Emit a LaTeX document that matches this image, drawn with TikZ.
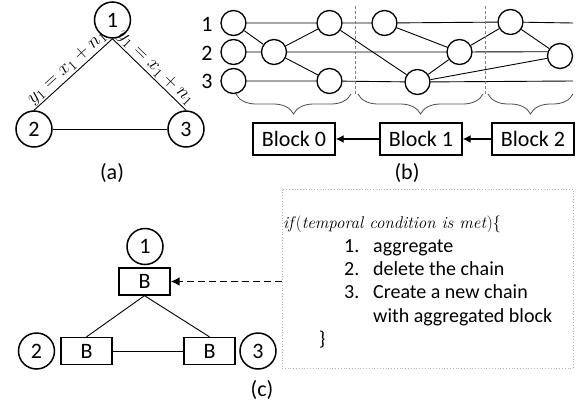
\RequirePackage{fix-cm}
\documentclass[tikz,border=0pt]{standalone}
\usepackage{fontspec}
\usepackage{graphicx}
\setmainfont{Carlito}
\newfontfamily\condfont{Latin Modern Roman}
\usetikzlibrary{decorations.pathreplacing,arrows.meta}

\newcommand{\yeq}{\resizebox{100pt}{!}{$y_1=x_1+n_1$}}

\begin{document}
\begin{tikzpicture}[
            x=1pt, y=-1pt,
            every node/.style={font=\fontsize{22}{26}\selectfont},
            main node/.style={circle,draw,line width=1.5pt,minimum size=36pt,inner sep=0pt},
            tx node/.style={circle,draw,fill=white,line width=1.3pt,minimum size=25pt,inner sep=0pt},
            block node/.style={rectangle,draw,line width=1.4pt,minimum width=82pt,minimum height=32pt,inner sep=0pt},
            agg node/.style={rectangle,draw,line width=1.3pt,minimum width=51pt,minimum height=27pt,inner sep=0pt},
            edge label/.style={sloped,above,inner sep=1pt},
            every edge/.style={draw,line width=0.9pt},
            chain line/.style={draw,line width=0.9pt},
            sep line/.style={draw,gray,line width=0.9pt,dash pattern=on 3pt off 2pt},
            group brace/.style={draw,gray!60!black,line width=0.8pt,decorate,decoration={brace,mirror,amplitude=20pt}},
            link arrow/.style={draw,line width=1.4pt,-{Latex[length=8pt,width=8pt]}},
            agg arrow/.style={draw,line width=1.8pt,dash pattern=on 7pt off 4pt,-{Latex[length=9pt,width=9pt]}},
            cond box/.style={rectangle,draw,gray!60,dotted,line width=0.8pt,minimum width=291pt,minimum height=179pt},
        ]
            \useasboundingbox (0,0) rectangle (582,402);

            % (a)
            \node[main node] (a1) at (112.5, 20) {1};
            \node[main node] (a2) at (34, 129) {2};
            \node[main node] (a3) at (186, 129) {3};

            \path (a2.north) edge node[edge label] {\yeq} (a1.south);
            \path (a1.south) edge node[edge label] {\yeq} (a3.north);
            \path (a2) edge (a3);
            \node (capa) at (112, 173) {(a)};

            % (b)
            \node (row1) at (207, 24) {1};
            \node (row2) at (207, 53) {2};
            \node (row3) at (207, 81) {3};

            \node[tx node] (c01) at (233.5, 23) {};
            \node[tx node] (c02) at (233.5, 52) {};
            \node[tx node] (c03) at (233.5, 81) {};
            \node[tx node] (c12) at (274, 52) {};
            \node[tx node] (c21) at (329.5, 23) {};
            \node[tx node] (c23) at (329.5, 81) {};
            \node[tx node] (c31) at (384.5, 23) {};
            \node[tx node] (c33) at (417.5, 82) {};
            \node[tx node] (c32) at (459.5, 52) {};
            \node[tx node] (c41) at (510.5, 22) {};
            \node[tx node] (c42) at (560, 56) {};
            \coordinate (end1) at (573, 23);
            \coordinate (end3) at (573, 81);

            \path[chain line] (c01) -- (c21) -- (c31) -- (c41) -- (end1);
            \path[chain line] (c02) -- (c12) -- (c32) -- (c42.161);
            \path[chain line] (c03) -- (c23) -- (c33) -- (end3);

            \path (c01) edge (c12);
            \path (c12) edge (c21);
            \path (c12) edge (c23);
            \path (c21) edge (c33);
            \path (c31) edge (c32);
            \path (c33) edge (c32);
            \path (c32) edge (c41);
            \path (c41) edge (c42);
            \path (c33) edge (c42);

            \draw[sep line] (355, 6) -- (355, 96);
            \draw[sep line] (485, 6) -- (485, 96);

            \draw[group brace] (236, 94) -- (351, 94);
            \draw[group brace] (358, 94) -- (483, 94);
            \draw[group brace] (488, 94) -- (573, 94);

            \node[block node] (blk0) at (294, 139) {Block 0};
            \node[block node] (blk1) at (421, 139) {Block 1};
            \node[block node] (blk2) at (533, 139) {Block 2};

            \path[link arrow] (blk1) -- (blk0);
            \path[link arrow] (blk2) -- (blk1);
            \node (capb) at (407, 173) {(b)};

            % (c)
            \node[main node] (n1) at (145, 246.5) {1};
            \node[agg node] (b1) at (144.5, 281.5) {B};
            \node[agg node] (b2) at (86.5, 351) {B};
            \node[agg node] (b3) at (209.5, 351) {B};
            \node[main node] (n2) at (36.5, 351) {2};
            \node[main node] (n3) at (258, 351) {3};

            \path (b1.south) edge (b2.north);
            \path (b1.south) edge (b3.north);
            \path (b2) edge (b3);
            \node (capc) at (262, 390) {(c)};

            \node[cond box] (cond) at (427.5, 278.5) {};
            \node[anchor=north west,align=left,inner sep=0pt,font=\fontsize{20}{23.3}\selectfont] (rule) at (283, 216) {%
                \resizebox{218pt}{!}{\condfont\fontsize{17}{23.3}\selectfont\textit{if}(\textit{temporal condition is met})\{}\\
                \hspace*{61pt}\makebox[29pt][l]{1.}aggregate\\
                \hspace*{61pt}\makebox[29pt][l]{2.}delete the chain\\
                \hspace*{61pt}\makebox[29pt][l]{3.}Create a new chain\\
                \hspace*{90pt}with aggregated block\\
                \hspace*{36pt}\}};

            \path[agg arrow] (cond.west |- b1.east) -- (b1.east);
        \end{tikzpicture}
\end{document}
